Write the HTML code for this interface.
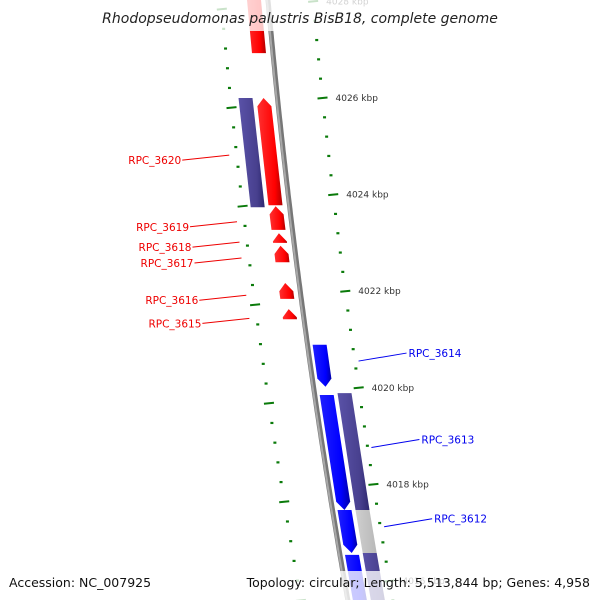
<!DOCTYPE html>
<html><head><meta charset="utf-8"><style>
html,body{margin:0;padding:0;background:#fff;width:600px;height:600px;overflow:hidden;}
svg{display:block;font-family:"DejaVu Sans","Liberation Sans",sans-serif;}
</style></head><body>
<svg id="chart" width="600" height="600" viewBox="0 0 600 600" xmlns="http://www.w3.org/2000/svg">
<defs>
<linearGradient id="gRed" x1="0" x2="1" y1="0" y2="0"><stop offset="0" stop-color="#ff3030"/><stop offset="0.7" stop-color="#ff0000"/><stop offset="1" stop-color="#b00000"/></linearGradient>
<linearGradient id="gBlue" x1="0" x2="1" y1="0" y2="0"><stop offset="0" stop-color="#2020ff"/><stop offset="0.7" stop-color="#0000ff"/><stop offset="1" stop-color="#0000a8"/></linearGradient>
<linearGradient id="gPur" x1="0" x2="1" y1="0" y2="0"><stop offset="0" stop-color="#5a52a8"/><stop offset="0.7" stop-color="#48408e"/><stop offset="1" stop-color="#2e2870"/></linearGradient>
<linearGradient id="gGray" x1="0" x2="1" y1="0" y2="0"><stop offset="0" stop-color="#cfcfcf"/><stop offset="1" stop-color="#b8b8b8"/></linearGradient>
</defs>
<g id="layer-ticks"></g>
<g id="layer-backbone"></g>
<g id="layer-features"></g>
<g id="layer-labels"></g>
<rect x="100" y="0" width="400" height="31" fill="#fff" opacity="0.78"/>
<text x="300" y="23" text-anchor="middle" font-size="14" font-style="italic" fill="#222">Rhodopseudomonas palustris BisB18, complete genome</text>
<rect x="0" y="571" width="600" height="29" fill="#fff" opacity="0.78"/>
<text x="9" y="587" font-size="12.5" fill="#111">Accession: NC_007925</text>
<text x="590" y="587" text-anchor="end" font-size="12.5" fill="#111">Topology: circular; Length: 5,513,844 bp; Genes: 4,958</text>
</svg>
<script>
// ---- data (kbp) ----
const redStarts = [4026.93, 4023.78, 4023.27, 4023.00, 4022.60, 4021.84, 4021.42];
const redEnds   = [4028.40, 4026.00, 4023.76, 4023.20, 4022.94, 4022.17, 4021.63];
const blueStarts = [4020.02, 4017.47, 4016.58, 4015.30];
const blueEnds   = [4020.89, 4019.85, 4017.47, 4016.54];
const cogLeftStarts = [4023.74];
const cogLeftEnds   = [4026.00];
const cogRightStarts = [4017.47, 4016.58, 4015.30];
const cogRightEnds   = [4019.89, 4017.47, 4016.58];
const cogRightKinds  = ["cog", "none", "cog"];
const redLabels = ["RPC_3620", "RPC_3619", "RPC_3618", "RPC_3617", "RPC_3616", "RPC_3615"];
const redLabelKbp = [4024.9, 4023.52, 4023.10, 4022.77, 4022.00, 4021.52];
const blueLabels = ["RPC_3614", "RPC_3613", "RPC_3612"];
const blueLabelKbp = [4020.45, 4018.66, 4017.02];
const majorTickKbp = [4028, 4026, 4024, 4022, 4020, 4018, 4016];
const majorTickLabels = ["4028 kbp", "4026 kbp", "4024 kbp", "4022 kbp", "4020 kbp", "4018 kbp", "4016 kbp"];

// ---- axis functions ----
const NS = "http://www.w3.org/2000/svg";
const PX_PER_KBP = 48.3, REF_KBP = 4026, REF_Y = 98;
function kbpToY(k){ return REF_Y + (REF_KBP - k) * PX_PER_KBP; }
function bx(y){ return 268 + 0.09*y + 0.0000717*y*y; }
function pt(k, off){
  const y = kbpToY(k);
  return [bx(y) + off, y];
}
function innerK(k){ return k - 0.2 - (REF_KBP - k) * 0.02; }
function mk(tag, attrs, parent){
  const e = document.createElementNS(NS, tag);
  for (const k in attrs) e.setAttribute(k, attrs[k]);
  parent.appendChild(e);
  return e;
}
const gT = document.getElementById('layer-ticks');
const gB = document.getElementById('layer-backbone');
const gF = document.getElementById('layer-features');
const gL = document.getElementById('layer-labels');

// backbone
(function(){
  let d = '';
  for (let k = 4028.5; k >= 4015.2; k -= 0.1){ const p = pt(k, 0); d += (d ? 'L' : 'M') + p[0].toFixed(1) + ',' + p[1].toFixed(1); }
  const a = mk('path', {d: d, stroke: '#777', 'stroke-width': 5, fill: 'none'}, gB);
  
  
  const b = mk('path', {d: d, stroke: '#a8a8a8', 'stroke-width': 2, fill: 'none', transform: 'translate(-1,0)'}, gB);
  
  
})();

// ticks
function drawTick(k, off, major){
  const half = major ? 5 : 1.5;
  const p1 = pt(k, off - half), p2 = pt(k, off + half);
  const t = mk('line', {x1: p1[0], y1: p1[1] + (major ? 0.5 : 0), x2: p2[0], y2: p2[1] - (major ? 0.5 : 0), stroke: '#0a7a0a', 'stroke-width': major ? 2 : 2.2}, gT);
  
  
}
for (let i = 0; i < 34; i++){
  const k = 4015.6 + i*0.4;
  const major = Math.abs(k/2 - Math.round(k/2)) < 0.01;
  drawTick(k, 45, major);
  drawTick(innerK(k), -47, major);
}
majorTickKbp.forEach((k, i) => {
  const p = pt(k, 58);
  const t = mk('text', {x: p[0], y: p[1] + 3, 'font-size': 9, fill: '#333'}, gT);
  t.textContent = majorTickLabels[i];
  
  
});

// features
function feature(s, e, o1, o2, fill, arrow, name){
  let pts;
  const head = 0.17;
  const mid = (o1 + o2)/2;
  if (arrow === 'up'){
    const hb = Math.max(s, e - head);
    pts = [pt(s, o1), pt(hb, o1), pt(e, mid), pt(hb, o2), pt(s, o2)];
  } else if (arrow === 'down'){
    const hb = Math.min(e, s + head);
    pts = [pt(e, o1), pt(hb, o1), pt(s, mid), pt(hb, o2), pt(e, o2)];
  } else {
    pts = [pt(s, o1), pt(e, o1), pt(e, o2), pt(s, o2)];
  }
  const p = mk('polygon', {points: pts.map(q => q[0].toFixed(1) + ',' + q[1].toFixed(1)).join(' '), fill: fill}, gF);
  
  
}
redStarts.forEach((s, i) => feature(s, redEnds[i], -21, -7, 'url(#gRed)', 'up', 'forward-gene'));
blueStarts.forEach((s, i) => feature(s, blueEnds[i], 5, 19, 'url(#gBlue)', 'down', 'reverse-gene'));
cogLeftStarts.forEach((s, i) => feature(s, cogLeftEnds[i], -39, -25, 'url(#gPur)', null, 'forward-cog'));
cogRightStarts.forEach((s, i) => feature(s, cogRightEnds[i], 23, 37, cogRightKinds[i] === 'cog' ? 'url(#gPur)' : 'url(#gGray)', null, 'reverse-cog'));

// labels
function label(text, k, side, color){
  const p = pt(k, side < 0 ? -54 : 48);
  const a = [p[0], p[1] + (side < 0 ? 4 : -5)];
  const b = side < 0 ? [a[0] - 47, a[1] + 5] : [a[0] + 48, a[1] - 8];
  const l = mk('line', {x1: a[0], y1: a[1], x2: b[0], y2: b[1], stroke: color, 'stroke-width': 1}, gL);
  
  
  const t = mk('text', {x: side < 0 ? b[0] - 1 : b[0] + 2, y: b[1] + 4, 'font-size': 10.5, fill: color, 'text-anchor': side < 0 ? 'end' : 'start'}, gL);
  t.textContent = text;
  
  
}
redLabels.forEach((t, i) => label(t, redLabelKbp[i], -1, '#ee0000'));
blueLabels.forEach((t, i) => label(t, blueLabelKbp[i], 1, '#0000ee'));
</script>
</body></html>
